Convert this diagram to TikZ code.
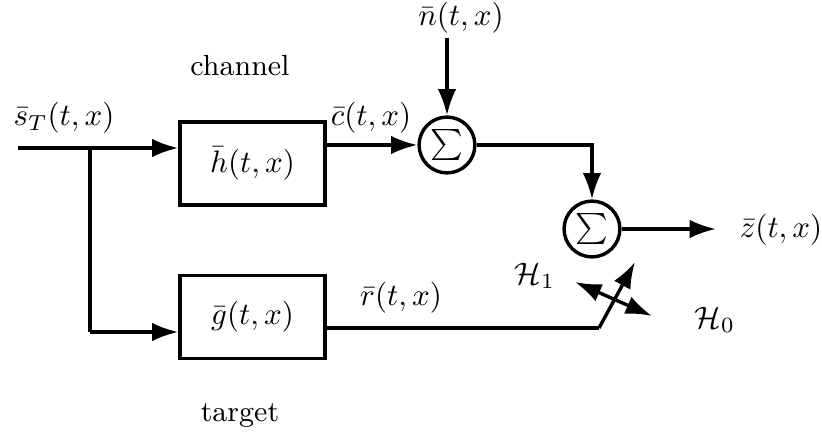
\documentclass[tikz,border=0pt]{standalone}
\usetikzlibrary{arrows.meta}
\begin{document}
\begin{tikzpicture}[x=0.3224pt,y=-0.3224pt,font=\normalsize,
  ln/.style={line width=1.1pt},
  arr/.style={ln,-{Latex[length=8.5pt,width=6pt]}},
  dbl/.style={ln,{Latex[length=8.5pt,width=6pt]}-{Latex[length=8.5pt,width=6pt]}},
  blk/.style={draw,line width=1.1pt,minimum width=46.7pt,minimum height=26.8pt,inner sep=0pt},
  word/.style={font=\fontsize{9.4}{11}\selectfont},
  summ/.style={draw,circle,line width=1.1pt,minimum size=18pt,inner sep=0pt,
    label={[font=\fontsize{9.3}{11}\selectfont,inner sep=0pt]center:$\textstyle\sum$}}]
\useasboundingbox (0,0) rectangle (822,434);
\node[blk] (b1) at (252.5,163.5) {$\bar h(t,x)$};
\node[blk] (b2) at (252.5,317) {$\bar g(t,x)$};
\node[summ] (s1) at (447,145) {};
\node[summ] (s2) at (592,229) {};
\node[word] (chan) at (240,66) {channel};
\node[word] (targ) at (240,416) {target};
\node (sT) at (64,118) {$\bar s_T(t,x)$};
\node (cl) at (371,118) {$\bar c(t,x)$};
\node (nl) at (461,18) {$\bar n(t,x)$};
\node (rl) at (401,298) {$\bar r(t,x)$};
\node (zl) at (781,230) {$\bar z(t,x)$};
\node (H1) at (535,276) {$\mathcal{H}_1$};
\node (H0) at (715,320) {$\mathcal{H}_0$};
\coordinate (in) at (18,148);
\coordinate (br) at (90,148);
\coordinate (b2in) at (180,332);
\coordinate (ntop) at (447,38);
\coordinate (zend) at (716,229);
\coordinate (sw) at (599,328);
\coordinate (swtip) at (635,262);
\coordinate (da) at (575,282);
\coordinate (db) at (652,316);
\draw[arr] (in) -- (in -| b1.west);
\draw[ln] (br) -- (br |- b2in);
\draw[arr] (br |- b2in) -- (b2in -| b2.west);
\draw[arr] (b1.east |- s1.west) -- (s1.west);
\draw[arr] (ntop) -- (s1.north);
\draw[arr] (s1.east) -- (s1.east -| s2.north) -- (s2.north);
\draw[arr] (s2.east) -- (zend);
\draw[ln] (b2.east |- sw) -- (sw);
\draw[arr] (sw) -- (swtip);
\draw[dbl] (da) -- (db);
\end{tikzpicture}
\end{document}
